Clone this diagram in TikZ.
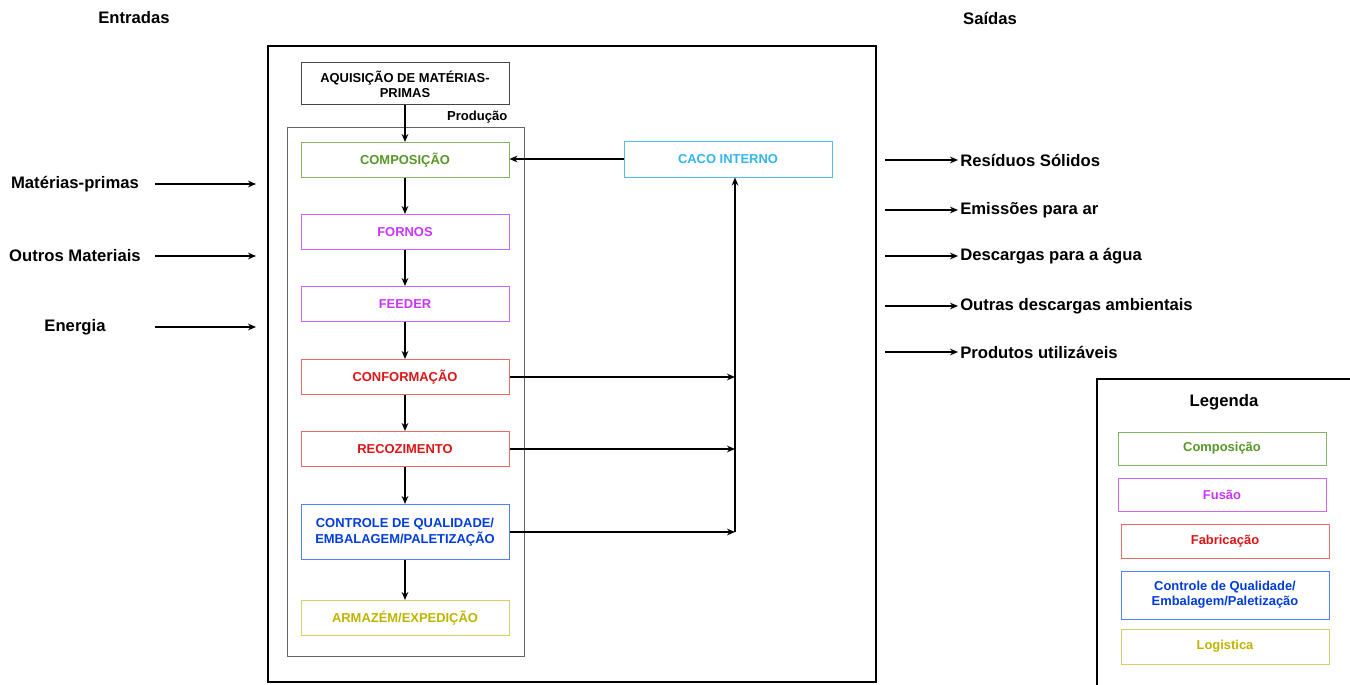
\documentclass[tikz,border=0pt]{standalone}
\usepackage{fontspec}
\setmainfont{Liberation Sans}
\usepackage{xcolor}
\usetikzlibrary{arrows.meta, positioning}

\definecolor{aqgray}{RGB}{70,70,70}
\definecolor{prodgray}{RGB}{100,100,100}
\definecolor{compborder}{RGB}{130,179,102}
\definecolor{comptext}{RGB}{86,150,40}
\definecolor{fusborder}{RGB}{204,102,255}
\definecolor{fustext}{RGB}{204,51,255}
\definecolor{fabborder}{RGB}{234,107,102}
\definecolor{fabtext}{RGB}{220,20,20}
\definecolor{qualborder}{RGB}{80,130,255}
\definecolor{qualtext}{RGB}{0,60,220}
\definecolor{logborder}{RGB}{214,208,100}
\definecolor{logtext}{RGB}{190,180,0}
\definecolor{cacoborder}{RGB}{80,190,240}
\definecolor{cacotext}{RGB}{50,180,240}

\begin{document}
\begin{tikzpicture}[x=0.75pt, y=-0.75pt, node distance=54pt]
\tikzstyle{stage} = [rectangle, minimum width=156pt, minimum height=26.25pt, text centered, align=center, line width=0.75pt, font=\bfseries\fontsize{9.7}{11.5}\selectfont]
\tikzstyle{legenditem} = [stage, font=\bfseries\fontsize{9.7}{11.5}\selectfont]
\tikzstyle{label} = [inner sep=1.5pt, font=\bfseries\fontsize{12.5}{14}\selectfont]
\tikzstyle{arrow} = [line width=1pt, -{Stealth[length=6pt,width=5pt]}]

\useasboundingbox (0,0) rectangle (1350,685);
\clip (0,0) rectangle (1350,685);

% headers
\node (entradas) [label] at (134,18) {Entradas};
\node (saidas) [label] at (990,18) {Saídas};

% outer box and production box
\draw [line width=1pt] (268,46) rectangle (876,682);
\node (producao) [draw=prodgray, line width=0.75pt, minimum width=177.75pt, minimum height=396pt] at (405.5,392) {};
\node (producaolabel) [anchor=south east, inner sep=1pt, font=\bfseries\fontsize{9.8}{11}\selectfont] at (509,125) {Produção};

% process chain
\node (aquisicao) [stage, draw=aqgray, minimum height=31.5pt] at (405,84) {AQUISIÇÃO DE MATÉRIAS-\\PRIMAS};
\node (composicao) [stage, draw=compborder, text=comptext] at (405,160) {COMPOSIÇÃO};
\node (fornos) [stage, draw=fusborder, text=fustext, below of=composicao] {FORNOS};
\node (feeder) [stage, draw=fusborder, text=fustext, below of=fornos] {FEEDER};
\node (conformacao) [stage, draw=fabborder, text=fabtext, below of=feeder, node distance=54.75pt] {CONFORMAÇÃO};
\node (recozimento) [stage, draw=fabborder, text=fabtext, below of=conformacao] {RECOZIMENTO};
\node (controle) [stage, draw=qualborder, text=qualtext, minimum height=41.25pt, below of=recozimento, node distance=62.25pt] {CONTROLE DE QUALIDADE/\\EMBALAGEM/PALETIZAÇÃO};
\node (armazem) [stage, draw=logborder, text=logtext, below of=controle, node distance=64.5pt] {ARMAZÉM/EXPEDIÇÃO};
\node (caco) [stage, draw=cacoborder, text=cacotext, minimum height=27pt] at (728,159) {CACO INTERNO};

\draw [arrow] (aquisicao) -- (composicao);
\draw [arrow] (composicao) -- (fornos);
\draw [arrow] (fornos) -- (feeder);
\draw [arrow] (feeder) -- (conformacao);
\draw [arrow] (conformacao) -- (recozimento);
\draw [arrow] (recozimento) -- (controle);
\draw [arrow] (controle) -- (armazem);

% return of cullet
\coordinate (junction) at (735,532);
\draw [arrow] (caco.west) -- (caco.west -| composicao.east);
\draw [arrow] (junction) -- (junction |- caco.south);
\draw [arrow] (conformacao.east) -- (conformacao.east -| junction);
\draw [arrow] (recozimento.east) -- (recozimento.east -| junction);
\draw [arrow] (controle.east) -- (controle.east -| junction);

% inputs
\coordinate (leftx) at (155,0);
\coordinate (inx) at (256,0);
\node (materias) [label] at (75,184) {Matérias-primas};
\node (outros) [label] at (75,256) {Outros Materiais};
\node (energia) [label] at (75,327) {Energia};
\draw [arrow] (materias -| leftx) -- (materias -| inx);
\draw [arrow] (outros -| leftx) -- (outros -| inx);
\draw [arrow] (energia -| leftx) -- (energia -| inx);

% outputs
\coordinate (outx) at (885,0);
\node (residuos) [label, anchor=west] at (958,160) {Resíduos Sólidos};
\node (emissoes) [label, anchor=west] at (958,210) {Emissões para ar};
\node (agua) [label, anchor=west] at (958,256) {Descargas para a água};
\node (ambientais) [label, anchor=west] at (958,306) {Outras descargas ambientais};
\node (produtos) [label, anchor=west] at (958,352) {Produtos utilizáveis};
\draw [arrow] (residuos -| outx) -- (residuos.west);
\draw [arrow] (emissoes -| outx) -- (emissoes.west);
\draw [arrow] (agua -| outx) -- (agua.west);
\draw [arrow] (ambientais -| outx) -- (ambientais.west);
\draw [arrow] (produtos -| outx) -- (produtos.west);

% legend
\draw [line width=1pt] (1097,379) rectangle (1355,700);
\node (legenda) [label] at (1224,402) {Legenda};
\node (legcomp) [legenditem, draw=compborder, text=comptext, minimum height=24.75pt] at (1222,448.5) {Composição};
\node (legfusao) [legenditem, draw=fusborder, text=fustext, minimum height=24.75pt] at (1222,494.5) {Fusão};
\node (legfab) [legenditem, draw=fabborder, text=fabtext, minimum height=25.5pt] at (1225,541) {Fabricação};
\node (legqual) [legenditem, draw=qualborder, text=qualtext, minimum height=36pt] at (1225,595) {Controle de Qualidade/\\Embalagem/Paletização};
\node (leglog) [legenditem, draw=logborder, text=logtext, minimum height=26.25pt] at (1225,646.5) {Logistica};
\end{tikzpicture}
\end{document}
